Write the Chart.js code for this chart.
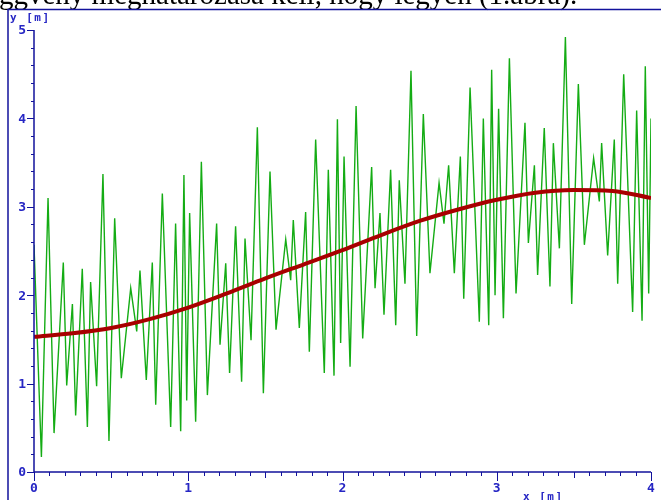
<!DOCTYPE html>
<html>
<head>
<meta charset="utf-8">
<title>y(x) mérés és illesztés</title>
<script src="https://cdn.jsdelivr.net/npm/chart.js@4/dist/chart.umd.min.js"></script>
<style>
  html, body { margin: 0; padding: 0; background: #fff; }
  #wrap { width: 661px; height: 500px; position: relative; }
</style>
</head>
<body>
<div id="wrap"><canvas id="chart" width="661" height="500"></canvas></div>
<script>
// caption line that is cut by the top edge of the picture
const captionText = 'ggvény meghatározása kell, hogy legyen (1.ábra).';

// tick labels
const xTickLabels = ['0', '1', '2', '3', '4'];
const yTickLabels = ['0', '1', '2', '3', '4', '5'];
const xAxisTitle = 'x [m]';
const yAxisTitle = 'y [m]';

// measured signal (green) - turning points
const measX = [
  0, 0.048, 0.091, 0.130, 0.190, 0.212, 0.249, 0.270, 0.313, 0.346,
  0.367, 0.406, 0.447, 0.486, 0.523, 0.566, 0.627, 0.666, 0.687, 0.728,
  0.767, 0.789, 0.832, 0.886, 0.918, 0.951, 0.972, 0.990, 1.009, 1.048,
  1.085, 1.124, 1.184, 1.206, 1.243, 1.268, 1.307, 1.346, 1.368, 1.407,
  1.448, 1.487, 1.530, 1.569, 1.632, 1.664, 1.681, 1.720, 1.761, 1.785,
  1.826, 1.882, 1.908, 1.945, 1.967, 1.988, 2.010, 2.049, 2.088, 2.131,
  2.189, 2.211, 2.243, 2.269, 2.312, 2.345, 2.368, 2.405, 2.444, 2.481,
  2.524, 2.567, 2.626, 2.658, 2.688, 2.725, 2.764, 2.786, 2.827, 2.887,
  2.913, 2.948, 2.967, 2.989, 3.012, 3.043, 3.082, 3.125, 3.183, 3.205,
  3.244, 3.265, 3.308, 3.345, 3.367, 3.406, 3.445, 3.486, 3.529, 3.568,
  3.628, 3.665, 3.680, 3.719, 3.762, 3.784, 3.823, 3.881, 3.907, 3.942,
  3.963, 3.985, 4.000
];
const measY = [
  2.57, 0.17, 3.10, 0.44, 2.37, 0.98, 1.90, 0.64, 2.30, 0.51,
  2.15, 0.97, 3.37, 0.35, 2.87, 1.06, 2.08, 1.59, 2.28, 1.04,
  2.37, 0.76, 3.15, 0.51, 2.81, 0.46, 3.36, 0.81, 2.93, 0.57,
  3.51, 0.87, 2.81, 1.44, 2.36, 1.12, 2.78, 1.02, 2.64, 1.49,
  3.90, 0.89, 3.40, 1.61, 2.63, 2.17, 2.85, 1.63, 2.94, 1.36,
  3.76, 1.12, 3.42, 1.09, 3.99, 1.46, 3.57, 1.19, 4.14, 1.51,
  3.45, 2.08, 2.93, 1.78, 3.42, 1.66, 3.30, 2.13, 4.54, 1.54,
  4.05, 2.25, 3.27, 2.81, 3.47, 2.25, 3.57, 1.96, 4.35, 1.70,
  4.00, 1.66, 4.55, 2.00, 4.11, 1.74, 4.68, 2.02, 3.95, 2.59,
  3.47, 2.23, 3.89, 2.10, 3.72, 2.53, 4.92, 1.90, 4.39, 2.57,
  3.55, 3.06, 3.72, 2.45, 3.76, 2.13, 4.50, 1.81, 4.09, 1.71,
  4.59, 2.02, 4.00
];

// smooth fitted curve (dark red)
const fitX = [0, 0.25, 0.5, 0.75, 1, 1.25, 1.5, 1.75, 2, 2.25, 2.5, 2.75, 3, 3.25, 3.5, 3.75, 4];
const fitY = [1.53, 1.57, 1.63, 1.73, 1.86, 2.02, 2.19, 2.35, 2.51, 2.68, 2.84, 2.97, 3.08, 3.16, 3.19, 3.18, 3.10];

const AXIS_BLUE = '#12129c';
const LABEL_BLUE = '#2626c4';

const toPoints = (xs, ys) => xs.map((x, i) => ({ x: x, y: ys[i] }));

/**
 * Old style axes: frame lines, ticks and labels drawn on the chart's scales
 */
const oldAxes = {
    id: 'oldAxes',
    beforeDraw(chart) {
        const ctx = chart.ctx;
        ctx.save();
        ctx.fillStyle = '#fff';
        ctx.fillRect(0, 0, chart.width, chart.height);

        // caption, only its lower part is visible
        ctx.fillStyle = '#000';
        ctx.font = '29px "Liberation Serif", "Times New Roman", serif';
        ctx.textBaseline = 'alphabetic';
        ctx.textAlign = 'left';
        ctx.fillText(captionText, -1, 4);

        // frame
        ctx.strokeStyle = AXIS_BLUE;
        ctx.lineWidth = 1.5;
        ctx.beginPath();
        ctx.moveTo(8, 500);
        ctx.lineTo(8, 9.5);
        ctx.lineTo(661, 9.5);
        ctx.stroke();
        ctx.restore();
    },
    afterDatasetsDraw(chart) {
        const ctx = chart.ctx;
        const xs = chart.scales.x;
        const ys = chart.scales.y;
        const left = xs.getPixelForValue(0);
        const right = xs.getPixelForValue(xTickLabels.length - 1);
        const bottom = ys.getPixelForValue(0);
        const top = ys.getPixelForValue(yTickLabels.length - 1);

        ctx.save();
        ctx.strokeStyle = AXIS_BLUE;
        ctx.lineWidth = 1.5;
        ctx.beginPath();
        ctx.moveTo(left, top);
        ctx.lineTo(left, bottom);
        ctx.lineTo(right, bottom);
        ctx.stroke();

        // y ticks: minor every 0.2
        ctx.lineWidth = 1;
        ctx.beginPath();
        for (let i = 0; i <= (yTickLabels.length - 1) * 5; i++) {
            const py = Math.round(ys.getPixelForValue(i / 5)) + 0.5;
            const len = i % 5 === 0 ? 7 : 3;
            ctx.moveTo(left - len, py);
            ctx.lineTo(left, py);
        }
        // x ticks: minor every 0.1, half step a bit longer
        for (let i = 0; i <= (xTickLabels.length - 1) * 10; i++) {
            const px = Math.round(xs.getPixelForValue(i / 10)) + 0.5;
            const len = i % 10 === 0 ? 9 : (i % 5 === 0 ? 6 : 4);
            ctx.moveTo(px, bottom);
            ctx.lineTo(px, bottom + len);
        }
        ctx.stroke();

        ctx.fillStyle = LABEL_BLUE;
        ctx.font = 'bold 13px "DejaVu Sans Mono", monospace';
        ctx.textAlign = 'right';
        ctx.textBaseline = 'middle';
        yTickLabels.forEach((lab, i) => {
            ctx.fillText(lab, left - 8, ys.getPixelForValue(i) + 1);
        });
        ctx.textAlign = 'center';
        xTickLabels.forEach((lab, i) => {
            ctx.fillText(lab, xs.getPixelForValue(i), bottom + 17);
        });

        ctx.font = 'bold 11px "DejaVu Sans Mono", monospace';
        ctx.letterSpacing = '1.5px';
        ctx.textAlign = 'left';
        ctx.fillText(yAxisTitle, 10, 18);
        ctx.fillText(xAxisTitle, 523, 497);
        ctx.restore();
    }
};

new Chart(document.getElementById('chart'), {
    type: 'line',
    data: {
        datasets: [
            {
                label: 'fit',
                data: toPoints(fitX, fitY),
                borderColor: '#a80000',
                borderWidth: 4,
                pointRadius: 0,
                tension: 0.4,
                cubicInterpolationMode: 'monotone',
                fill: false
            },
            {
                label: 'measured',
                data: toPoints(measX, measY),
                borderColor: '#14ac14',
                borderWidth: 1.4,
                pointRadius: 0,
                tension: 0,
                fill: false
            }
        ]
    },
    options: {
        responsive: false,
        animation: false,
        events: [],
        layout: {
            padding: { left: 34, right: 10, top: 30, bottom: 28 }
        },
        plugins: {
            legend: { display: false },
            tooltip: { enabled: false }
        },
        scales: {
            x: { type: 'linear', min: 0, max: 4, display: false },
            y: { type: 'linear', min: 0, max: 5, display: false }
        }
    },
    plugins: [oldAxes]
});
</script>
</body>
</html>
